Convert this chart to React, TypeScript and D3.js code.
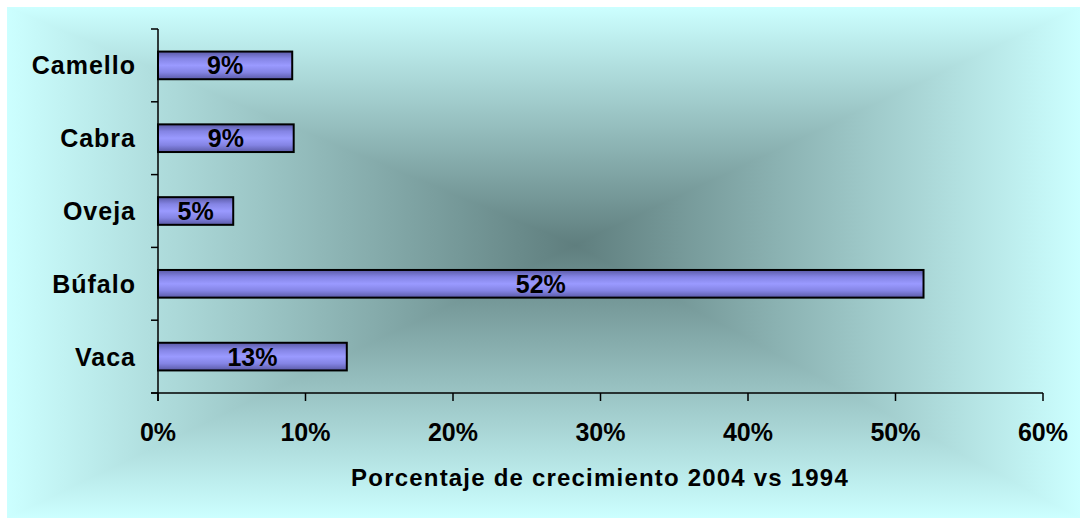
import React from "react";
import * as d3 from "d3";

const categories = ["Camello", "Cabra", "Oveja", "Búfalo", "Vaca"];
const values = [0.091, 0.092, 0.051, 0.519, 0.128];
const valueLabels = ["9%", "9%", "5%", "52%", "13%"];
const xTicks = [0, 0.1, 0.2, 0.3, 0.4, 0.5, 0.6];
const axisTitle = "Porcentaje de crecimiento 2004 vs 1994";

const W = 1080;
const H = 518;
const FONT = "'Liberation Sans', Arial, Helvetica, sans-serif";

export default function App() {
  const x = d3.scaleLinear().domain([0, 0.6]).range([158, 1043]);
  const y = d3
    .scaleBand<string>()
    .domain(categories)
    .range([29, 393])
    .paddingInner(0.62)
    .paddingOuter(0.31);
  const step = y.step();
  const boundaries = d3.range(categories.length + 1).map((i) => 29 + i * step);

  const bx0 = 7, by0 = 7, bx1 = 1080, by1 = 518;
  const cx = 575, cy = 245;
  const edge = "#ccffff";
  const center = "#5f7e7e";

  const tri = [
    { id: "gTop", pts: `${bx0},${by0} ${bx1},${by0} ${cx},${cy}`, g: [0, by0, 0, cy] },
    { id: "gBot", pts: `${bx0},${by1} ${bx1},${by1} ${cx},${cy}`, g: [0, by1, 0, cy] },
    { id: "gLeft", pts: `${bx0},${by0} ${bx0},${by1} ${cx},${cy}`, g: [bx0, 0, cx, 0] },
    { id: "gRight", pts: `${bx1},${by0} ${bx1},${by1} ${cx},${cy}`, g: [bx1, 0, cx, 0] },
  ];

  return (
    <svg width={W} height={H} style={{ display: "block", position: "absolute", left: 0, top: 0 }}>
      <defs>
        {tri.map((t) => (
          <linearGradient key={t.id} id={t.id} gradientUnits="userSpaceOnUse" x1={t.g[0]} y1={t.g[1]} x2={t.g[2]} y2={t.g[3]}>
            <stop offset="0" stopColor={edge} />
            <stop offset="1" stopColor={center} />
          </linearGradient>
        ))}
        <linearGradient id="gBar" x1="0" y1="0" x2="0" y2="1">
          <stop offset="0" stopColor="#5a5aa6" />
          <stop offset="0.25" stopColor="#8484e4" />
          <stop offset="0.5" stopColor="#9a9aff" />
          <stop offset="0.75" stopColor="#8484e4" />
          <stop offset="1" stopColor="#5a5aa6" />
        </linearGradient>
        <clipPath id="bgClip">
          <rect x={bx0} y={by0} width={bx1 - bx0} height={by1 - by0} />
        </clipPath>
      </defs>
      <rect x={0} y={0} width={W} height={H} fill="#ffffff" />
      <g clipPath="url(#bgClip)">
        {tri.map((t) => (
          <polygon key={t.id} points={t.pts} fill={`url(#${t.id})`} stroke={`url(#${t.id})`} strokeWidth={1.5} strokeLinejoin="round" />
        ))}
      </g>

      {categories.map((c, i) => (
        <rect
          key={c}
          x={x(0)}
          y={y(c)!}
          width={x(values[i]) - x(0)}
          height={y.bandwidth()}
          fill="url(#gBar)"
          stroke="#000"
          strokeWidth={2}
        />
      ))}

      {categories.map((c, i) => (
        <text
          key={"v" + c}
          x={(x(0) + x(values[i])) / 2}
          y={y(c)! + y.bandwidth() / 2 + 9}
          textAnchor="middle"
          fontFamily={FONT}
          fontWeight="bold"
          fontSize={25}
          fill="#000"
        >
          {valueLabels[i]}
        </text>
      ))}

      <line x1={x(0)} y1={29} x2={x(0)} y2={401} stroke="#000" strokeWidth={1.5} />
      {boundaries.map((b, i) => (
        <line key={"yt" + i} x1={151} y1={b} x2={x(0)} y2={b} stroke="#000" strokeWidth={1.5} />
      ))}
      {categories.map((c) => (
        <text
          key={"c" + c}
          x={136}
          y={y(c)! + y.bandwidth() / 2 + 9}
          textAnchor="end"
          fontFamily={FONT}
          fontWeight="bold"
          fontSize={25}
          letterSpacing={1}
          fill="#000"
        >
          {c}
        </text>
      ))}

      <line x1={151} y1={393} x2={x(0.6)} y2={393} stroke="#000" strokeWidth={1.5} />
      {xTicks.map((t) => (
        <g key={"xt" + t}>
          <line x1={x(t)} y1={393} x2={x(t)} y2={401} stroke="#000" strokeWidth={1.5} />
          <text
            x={x(t)}
            y={441}
            textAnchor="middle"
            fontFamily={FONT}
            fontWeight="bold"
            fontSize={25}
            fill="#000"
          >
            {d3.format(".0%")(t)}
          </text>
        </g>
      ))}
      <text
        x={600}
        y={486}
        textAnchor="middle"
        fontFamily={FONT}
        fontWeight="bold"
        fontSize={24}
        letterSpacing={1.2}
        fill="#000"
      >
        {axisTitle}
      </text>
    </svg>
  );
}
